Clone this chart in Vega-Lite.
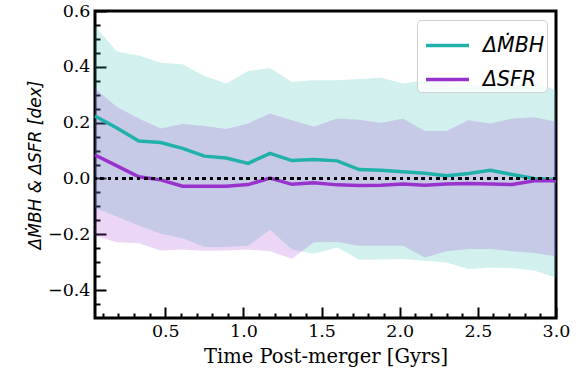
{
  "$schema": "https://vega.github.io/schema/vega-lite/v6.json",
  "width": 461,
  "height": 307,
  "autosize": {"type": "none"},
  "padding": {"left": 95, "top": 11, "right": 31, "bottom": 56},
  "config": {
    "view": {"stroke": "black", "strokeWidth": 3},
    "axis": {
      "labelFont": "DejaVu Serif",
      "labelFontSize": 17.5,
      "labelColor": "black",
      "tickColor": "black",
      "tickWidth": 2,
      "domain": false,
      "grid": false,
      "titleFont": "DejaVu Serif",
      "titleFontSize": 19.5,
      "titleFontWeight": "normal",
      "titleColor": "black",
      "labelFlush": false
    },
    "legend": {
      "orient": "top-right",
      "offset": 9,
      "symbolType": "stroke",
      "symbolSize": 1849,
      "symbolStrokeWidth": 3.5,
      "symbolOpacity": 1,
      "symbolOffset": 5,
      "labelFont": "DejaVu Sans",
      "labelFontSize": 20.5,
      "labelFontStyle": "italic",
      "labelColor": "black",
      "labelOffset": 12,
      "labelExpr": "datum.label + '   '",
      "rowPadding": -14.5,
      "padding": 2,
      "strokeColor": "#d0d0d0",
      "fillColor": "rgba(255,255,255,0.8)",
      "cornerRadius": 4
    }
  },
  "data": {
    "values": [
      {"t": 0.05, "s": "ΔṀBH", "m": 0.224, "lo": -0.106, "hi": 0.545},
      {"t": 0.19, "s": "ΔṀBH", "m": 0.181, "lo": -0.136, "hi": 0.455},
      {"t": 0.33, "s": "ΔṀBH", "m": 0.134, "lo": -0.169, "hi": 0.441},
      {"t": 0.47, "s": "ΔṀBH", "m": 0.129, "lo": -0.198, "hi": 0.415},
      {"t": 0.61, "s": "ΔṀBH", "m": 0.108, "lo": -0.214, "hi": 0.409},
      {"t": 0.75, "s": "ΔṀBH", "m": 0.080, "lo": -0.246, "hi": 0.367},
      {"t": 0.89, "s": "ΔṀBH", "m": 0.073, "lo": -0.246, "hi": 0.340},
      {"t": 1.03, "s": "ΔṀBH", "m": 0.054, "lo": -0.241, "hi": 0.385},
      {"t": 1.17, "s": "ΔṀBH", "m": 0.090, "lo": -0.184, "hi": 0.396},
      {"t": 1.31, "s": "ΔṀBH", "m": 0.064, "lo": -0.255, "hi": 0.346},
      {"t": 1.45, "s": "ΔṀBH", "m": 0.068, "lo": -0.270, "hi": 0.352},
      {"t": 1.60, "s": "ΔṀBH", "m": 0.063, "lo": -0.247, "hi": 0.352},
      {"t": 1.74, "s": "ΔṀBH", "m": 0.032, "lo": -0.291, "hi": 0.356},
      {"t": 1.88, "s": "ΔṀBH", "m": 0.029, "lo": -0.290, "hi": 0.361},
      {"t": 2.02, "s": "ΔṀBH", "m": 0.024, "lo": -0.289, "hi": 0.340},
      {"t": 2.16, "s": "ΔṀBH", "m": 0.019, "lo": -0.295, "hi": 0.352},
      {"t": 2.30, "s": "ΔṀBH", "m": 0.010, "lo": -0.301, "hi": 0.358},
      {"t": 2.44, "s": "ΔṀBH", "m": 0.018, "lo": -0.324, "hi": 0.335},
      {"t": 2.58, "s": "ΔṀBH", "m": 0.029, "lo": -0.319, "hi": 0.330},
      {"t": 2.72, "s": "ΔṀBH", "m": 0.014, "lo": -0.321, "hi": 0.332},
      {"t": 2.86, "s": "ΔṀBH", "m": 0.000, "lo": -0.330, "hi": 0.350},
      {"t": 3.00, "s": "ΔṀBH", "m": -0.003, "lo": -0.356, "hi": 0.315},
      {"t": 0.05, "s": "ΔSFR", "m": 0.084, "lo": -0.205, "hi": 0.322},
      {"t": 0.19, "s": "ΔSFR", "m": 0.045, "lo": -0.229, "hi": 0.256},
      {"t": 0.33, "s": "ΔSFR", "m": 0.006, "lo": -0.232, "hi": 0.215},
      {"t": 0.47, "s": "ΔSFR", "m": -0.005, "lo": -0.258, "hi": 0.179},
      {"t": 0.61, "s": "ΔSFR", "m": -0.028, "lo": -0.255, "hi": 0.195},
      {"t": 0.75, "s": "ΔSFR", "m": -0.028, "lo": -0.259, "hi": 0.188},
      {"t": 0.89, "s": "ΔSFR", "m": -0.028, "lo": -0.258, "hi": 0.177},
      {"t": 1.03, "s": "ΔSFR", "m": -0.022, "lo": -0.255, "hi": 0.197},
      {"t": 1.17, "s": "ΔSFR", "m": 0.001, "lo": -0.261, "hi": 0.233},
      {"t": 1.31, "s": "ΔSFR", "m": -0.021, "lo": -0.288, "hi": 0.209},
      {"t": 1.45, "s": "ΔSFR", "m": -0.015, "lo": -0.229, "hi": 0.185},
      {"t": 1.60, "s": "ΔSFR", "m": -0.023, "lo": -0.228, "hi": 0.215},
      {"t": 1.74, "s": "ΔSFR", "m": -0.025, "lo": -0.241, "hi": 0.210},
      {"t": 1.88, "s": "ΔSFR", "m": -0.024, "lo": -0.241, "hi": 0.199},
      {"t": 2.02, "s": "ΔSFR", "m": -0.020, "lo": -0.241, "hi": 0.215},
      {"t": 2.16, "s": "ΔSFR", "m": -0.024, "lo": -0.283, "hi": 0.170},
      {"t": 2.30, "s": "ΔSFR", "m": -0.020, "lo": -0.261, "hi": 0.170},
      {"t": 2.44, "s": "ΔSFR", "m": -0.018, "lo": -0.253, "hi": 0.209},
      {"t": 2.58, "s": "ΔSFR", "m": -0.020, "lo": -0.253, "hi": 0.197},
      {"t": 2.72, "s": "ΔSFR", "m": -0.022, "lo": -0.261, "hi": 0.215},
      {"t": 2.86, "s": "ΔSFR", "m": -0.008, "lo": -0.267, "hi": 0.219},
      {"t": 3.00, "s": "ΔSFR", "m": -0.008, "lo": -0.279, "hi": 0.203}
    ]
  },
  "layer": [
    {
      "mark": {"type": "area", "fillOpacity": 0.2},
      "encoding": {
        "x": {
          "field": "t", "type": "quantitative",
          "scale": {"domain": [0.05, 3.0], "nice": false, "zero": false},
          "axis": {"orient": "bottom", "values": [0.1,0.2,0.3,0.4,0.6,0.7,0.8,0.9,1.1,1.2,1.3,1.4,1.6,1.7,1.8,1.9,2.1,2.2,2.3,2.4,2.6,2.7,2.8,2.9], "labels": false, "tickSize": -5, "title": null}
        },
        "y": {
          "field": "lo", "type": "quantitative",
          "scale": {"domain": [-0.5, 0.6], "nice": false, "zero": false},
          "axis": {"orient": "left", "values": [-0.45,-0.35,-0.3,-0.25,-0.15,-0.1,-0.05,0.05,0.1,0.15,0.25,0.3,0.35,0.45,0.5,0.55], "labels": false, "tickSize": -5, "title": null}
        },
        "y2": {"field": "hi"},
        "color": {
          "field": "s", "type": "nominal",
          "scale": {"domain": ["ΔṀBH", "ΔSFR"], "range": ["#20b2aa", "#9932cc"]},
          "legend": {"title": null}
        }
      }
    },
    {
      "mark": {"type": "line", "strokeWidth": 3.5},
      "encoding": {
        "x": {
          "field": "t", "type": "quantitative",
          "axis": {"orient": "bottom", "values": [0.5,1.0,1.5,2.0,2.5,3.0], "format": ".1f", "tickSize": -11, "labelPadding": 15, "title": "Time Post-merger [Gyrs]", "titlePadding": 8}
        },
        "y": {
          "field": "m", "type": "quantitative",
          "axis": {"orient": "left", "values": [-0.4,-0.2,0.0,0.2,0.4,0.6], "format": ".1f", "tickSize": -11, "labelPadding": 16, "title": "ΔṀBH & ΔSFR [dex]", "titleFont": "DejaVu Sans", "titleFontSize": 17, "titleFontStyle": "italic", "titlePadding": 3}
        },
        "color": {
          "field": "s", "type": "nominal",
          "scale": {"domain": ["ΔṀBH", "ΔSFR"], "range": ["#20b2aa", "#9932cc"]},
          "legend": {"title": null}
        }
      }
    },
    {
      "mark": {"type": "rule", "color": "black", "strokeWidth": 2.7, "strokeDash": [2.7, 4.6]},
      "encoding": {"y": {"datum": 0, "axis": null}}
    }
  ],
  "resolve": {"axis": {"x": "independent", "y": "independent"}}
}
